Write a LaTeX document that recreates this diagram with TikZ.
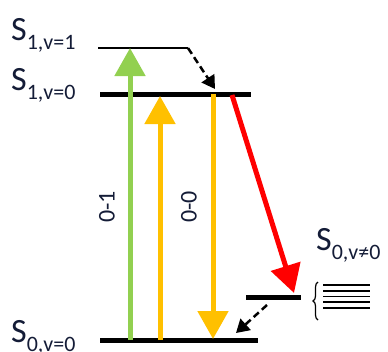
\documentclass[tikz,border=0pt]{standalone}
\usepackage{fontspec}
\setmainfont{Carlito}
\usetikzlibrary{arrows.meta,decorations.pathreplacing}
\definecolor{lvltext}{RGB}{20,28,55}
\definecolor{absgreen}{RGB}{146,208,80}
\definecolor{absorange}{RGB}{255,192,0}
\definecolor{emred}{RGB}{255,0,0}
\newcommand{\lvl}[1]{S\raisebox{-9pt}{\fontsize{22}{22}\selectfont #1}}

\begin{document}
\begin{tikzpicture}[x=1pt,y=-1pt]
	\tikzstyle{every node}=[inner sep=0pt, text=lvltext]
	\tikzstyle{level}=[line width=5pt]
	\tikzstyle{trans}=[line width=5pt, -{Triangle[width=30pt,length=28pt]}]
	\tikzstyle{relax}=[line width=2.5pt, dash pattern=on 7pt off 4pt, -{Triangle[width=15pt,length=13pt]}]
	\tikzstyle{state}=[anchor=base west, font=\fontsize{34}{34}\selectfont]
	\tikzstyle{vib}=[rotate=90, font=\fontsize{24}{24}\selectfont]
	\useasboundingbox (0,0) rectangle (388,351);
	% energy levels
	\coordinate (s11a) at (98,48);
	\coordinate (s11b) at (188,48);
	\coordinate (s10a) at (100,94);
	\coordinate (s10b) at (251,94);
	\coordinate (s00a) at (100,340);
	\coordinate (s00b) at (258,340);
	\coordinate (s01a) at (246,297);
	\coordinate (s01b) at (301,297);
	\draw[line width=2pt] (s11a) -- (s11b);
	\draw[level] (s10a) -- (s10b);
	\draw[level] (s00a) -- (s00b);
	\draw[level] (s01a) -- (s01b);
	% state labels
	\node (l11) [state] at (11,40) {\lvl{1,v=1}};
	\node (l10) [state] at (11,90) {\lvl{1,v=0}};
	\node (l00) [state] at (11,342) {\lvl{0,v=0}};
	\node (l01) [state] at (316,250) {\lvl{0,v≠0}};
	% absorption and emission
	\coordinate (g0) at (130,340);
	\coordinate (g1) at (130,48);
	\coordinate (o0) at (160,340);
	\coordinate (o1) at (160,96);
	\coordinate (e1) at (213,94);
	\coordinate (e0) at (213,339);
	\coordinate (r1) at (232,95);
	\coordinate (r0) at (294,293);
	\draw[trans, absgreen] (g0) -- (g1);
	\draw[trans, absorange] (o0) -- (o1);
	\draw[trans, absorange] (e1) -- (e0);
	\draw[trans, emred] (r1) -- (r0);
	\node (n01) [vib] at (107,207) {0-1};
	\node (n00) [vib] at (189,207) {0-0};
	% relaxation
	\coordinate (d1) at (215,89);
	\coordinate (d2) at (267,305);
	\coordinate (d3) at (236,333);
	\draw[relax] (s11b) -- (d1);
	\draw[relax] (d2) -- (d3);
	% vibrational manifold
	\draw[line width=1.2pt, decorate, decoration={brace,amplitude=5pt}] (318,320) -- (318,282);
	\foreach \y in {285,291,296.5,302,308}
		\draw[line width=1.6pt] (323,\y) -- (370,\y);
\end{tikzpicture}
\end{document}
